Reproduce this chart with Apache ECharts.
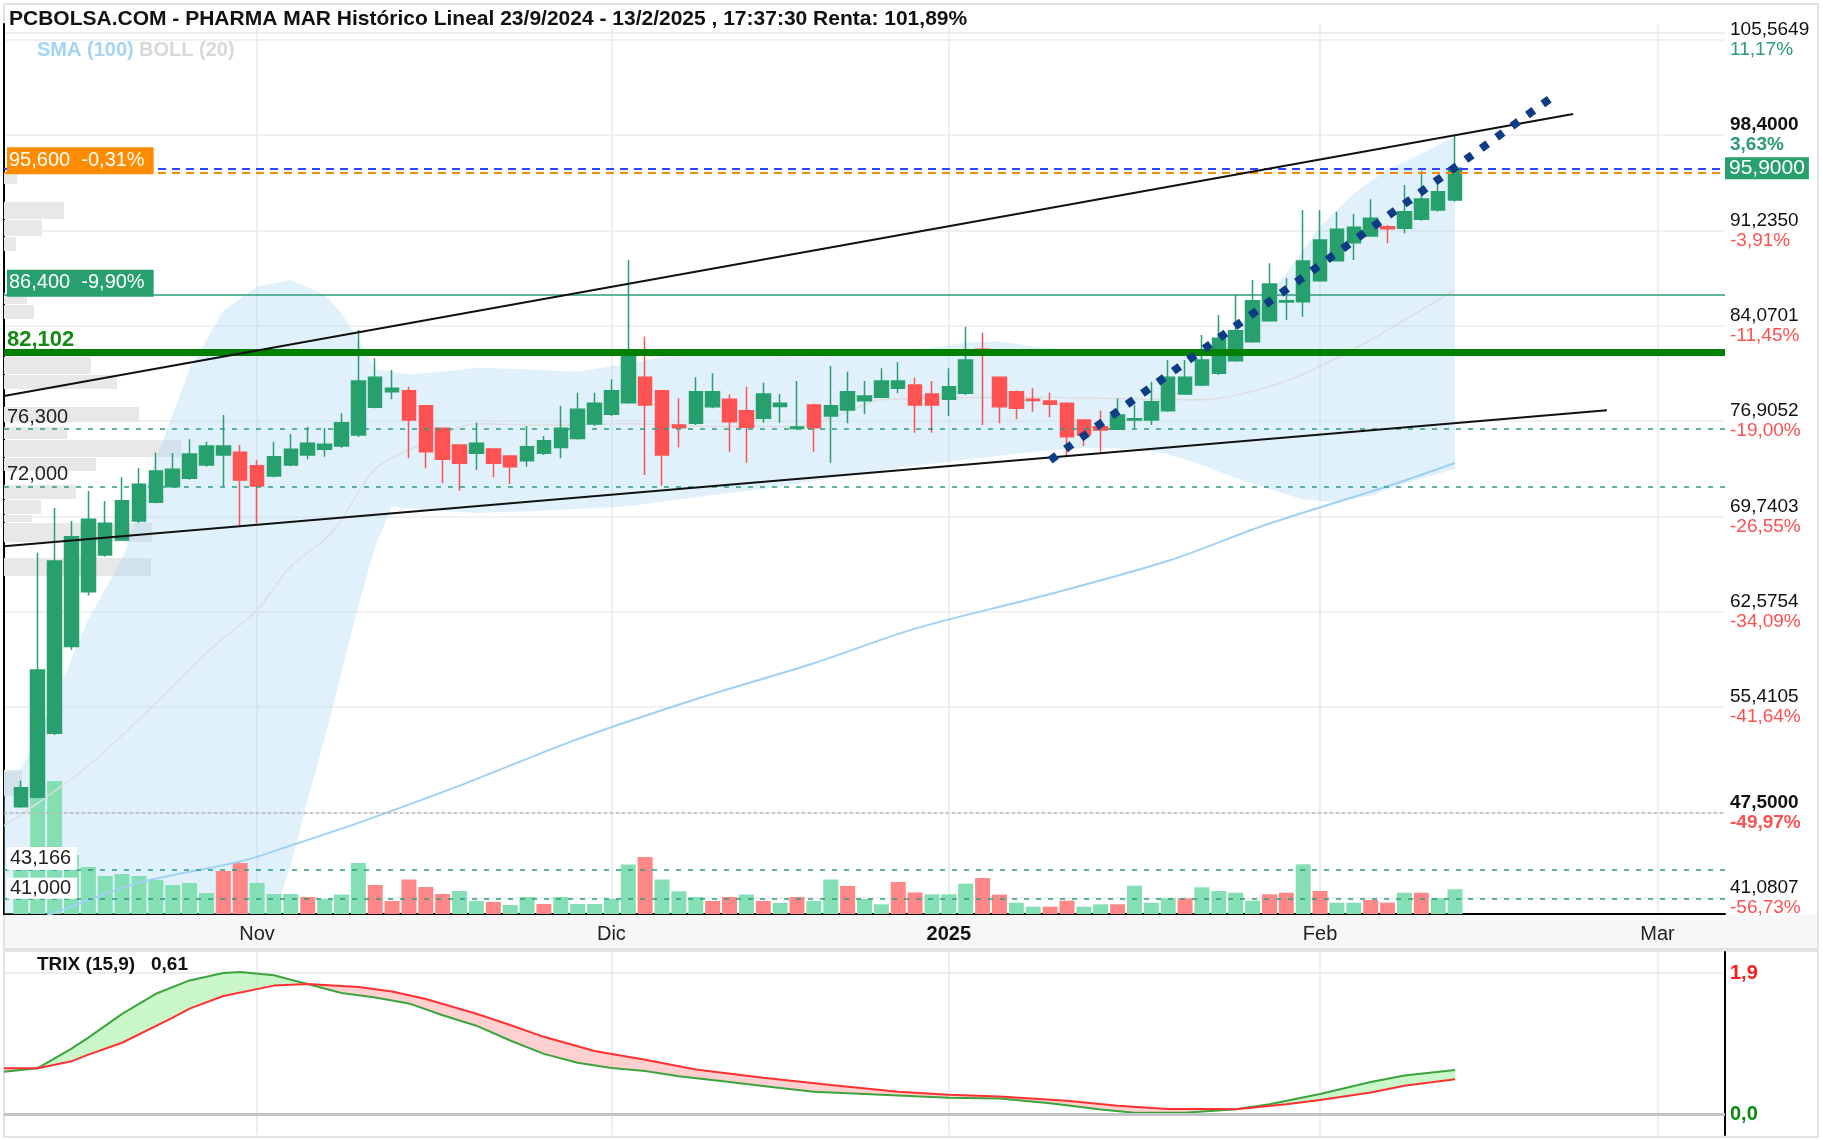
<!DOCTYPE html>
<html>
<head>
<meta charset="utf-8">
<title>PHARMA MAR - Histórico Lineal</title>
<script src="https://cdn.jsdelivr.net/npm/echarts@6.0.0/dist/echarts.min.js"></script>
<style>
  html, body { margin: 0; padding: 0; background: #fff; }
  #chart { width: 1823px; height: 1140px; }
</style>
</head>
<body>
<div id="chart"></div>
<script>
// sesiones visibles (d/m)
var days = ['14/10','15/10','16/10','17/10','18/10','21/10','22/10','23/10','24/10','25/10','28/10','29/10','30/10','31/10',
  '1/11','4/11','5/11','6/11','7/11','8/11','11/11','12/11','13/11','14/11','15/11','18/11','19/11','20/11','21/11','22/11','25/11','26/11','27/11','28/11','29/11',
  '2/12','3/12','4/12','5/12','6/12','9/12','10/12','11/12','12/12','13/12','16/12','17/12','18/12','19/12','20/12','23/12','24/12','27/12','30/12','31/12',
  '2/1','3/1','6/1','7/1','8/1','9/1','10/1','13/1','14/1','15/1','16/1','17/1','20/1','21/1','22/1','23/1','24/1','27/1','28/1','29/1','30/1','31/1',
  '3/2','4/2','5/2','6/2','7/2','10/2','11/2','12/2','13/2'];
var padLeft = ['11/10'];
var futureDays = ['14/2','17/2','18/2','19/2','20/2','21/2','24/2','25/2','26/2','27/2','28/2','3/3','4/3','5/3','6/3','7/3'];
var monthLabels = { '1/11': 'Nov', '2/12': 'Dic', '2/1': '2025', '3/2': 'Feb', '3/3': 'Mar' };

var open = [47.92, 48.63, 53.44, 59.95, 64.08, 66.84, 67.96, 69.39, 70.80, 71.97, 72.60, 73.60, 74.35, 74.55,
  73.55, 72.77, 73.60, 74.35, 74.78, 75.03, 75.85, 77.94, 79.11, 79.18, 78.06, 76.36, 75.10, 74.48, 74.80, 74.28, 73.92, 74.48, 74.91, 75.60, 76.68,
  77.41, 78.28, 80.19, 79.18, 76.60, 76.73, 77.98, 78.54, 77.68, 77.11, 78.00, 76.35, 78.11, 77.28, 77.73, 78.43, 78.69, 79.36, 79.61, 78.94,
  78.54, 78.99, 82.30, 80.19, 79.11, 78.55, 78.41, 78.24, 76.98, 76.48, 76.28, 76.98, 76.98, 77.68, 78.94, 79.61, 80.49, 81.44, 82.87, 84.44, 85.85, 85.87,
  87.45, 88.95, 90.31, 90.81, 91.50, 91.39, 92.06, 92.76, 93.51];
var close = [49.35, 58.19, 66.38, 68.21, 69.52, 69.22, 70.92, 72.15, 73.15, 73.28, 74.43, 75.03, 75.03, 72.47,
  72.02, 74.22, 74.78, 75.23, 75.15, 76.78, 79.91, 80.19, 79.36, 76.98, 74.60, 74.03, 73.73, 75.23, 73.73, 73.47, 74.97, 75.43, 76.36, 77.78, 78.24,
  79.18, 81.99, 78.11, 74.35, 76.40, 79.11, 79.11, 76.85, 76.43, 78.94, 78.24, 76.45, 76.40, 78.06, 79.11, 78.78, 79.91, 79.91, 78.11, 78.11,
  79.48, 81.49, 81.90, 77.98, 77.86, 78.45, 78.16, 75.73, 75.85, 76.23, 77.36, 77.08, 78.36, 80.19, 80.19, 81.49, 83.12, 83.69, 85.95, 87.20, 85.95, 88.93,
  90.51, 91.31, 91.46, 92.14, 91.35, 92.64, 93.59, 94.14, 95.90];
var low = [47.85, 48.55, 53.30, 59.70, 63.80, 66.70, 67.90, 69.24, 70.72, 71.90, 72.50, 73.47, 71.97, 69.09,
  69.22, 72.67, 73.50, 74.03, 74.22, 74.90, 75.70, 77.86, 78.54, 74.10, 73.35, 72.22, 71.67, 73.22, 72.68, 72.17, 73.47, 74.35, 74.10, 75.50, 76.53,
  77.28, 78.20, 72.85, 72.02, 74.93, 76.60, 77.86, 74.60, 73.77, 76.78, 76.78, 76.30, 74.60, 73.77, 76.73, 77.43, 78.61, 78.99, 76.03, 76.03,
  77.28, 78.86, 76.60, 76.73, 77.03, 77.60, 77.18, 74.22, 75.03, 74.60, 76.23, 76.36, 76.60, 77.60, 78.86, 79.53, 80.36, 81.36, 82.79, 84.37, 84.50, 84.74,
  87.38, 88.88, 89.00, 90.76, 90.26, 91.01, 91.96, 92.64, 93.39];
var high = [49.87, 67.00, 70.37, 69.40, 71.65, 70.90, 72.67, 73.35, 74.52, 74.50, 75.53, 75.35, 77.36, 75.10,
  73.97, 75.35, 75.93, 76.48, 76.36, 77.48, 83.74, 81.62, 80.74, 79.48, 78.10, 76.40, 75.15, 76.78, 74.90, 74.30, 76.53, 75.78, 78.03, 79.03, 79.03,
  80.04, 89.00, 83.24, 79.20, 78.61, 80.19, 80.49, 78.90, 79.48, 79.78, 78.94, 79.91, 78.20, 81.04, 80.61, 79.91, 80.87, 81.32, 80.16, 79.91,
  80.87, 83.99, 83.54, 80.20, 79.20, 79.36, 79.03, 78.30, 77.00, 77.68, 78.61, 78.11, 79.86, 81.49, 81.49, 83.37, 84.87, 86.45, 87.50, 88.76, 87.63, 92.76,
  92.76, 92.64, 92.46, 93.57, 91.64, 94.64, 95.72, 95.02, 98.40];

// volumen (miles de títulos) y color de la barra (1 sube, 0 baja)
var volume = [590, 1240, 1330, 590, 470, 380, 400, 380, 340, 290, 310, 210, 430, 510,
  310, 200, 200, 170, 150, 195, 510, 290, 130, 345, 270, 200, 230, 130, 120, 90, 170, 100, 170, 100, 100,
  150, 495, 570, 345, 227, 170, 130, 170, 195, 130, 110, 170, 130, 345, 280, 150, 97, 320, 215, 197,
  197, 304, 360, 194, 113, 73, 73, 133, 73, 97, 97, 283, 113, 157, 157, 267, 230, 213, 133, 197, 213, 497,
  230, 113, 113, 140, 113, 213, 213, 157, 247];
var volUp = [1,1,1,1,1,1,1,1,1,1,1,1,0,0,
  1,1,1,0,1,1,1,0,0,0,0,0,1,1,0,1,1,0,1,1,1,
  1,1,0,1,1,1,0,0,1,0,1,0,1,1,0,1,1,0,0,1,
  1,1,0,0,1,1,0,0,1,1,0,1,1,1,0,1,1,1,1,0,0,1,
  0,1,1,0,0,1,0,1,1];

// volumen por precio (perfil a la izquierda)
var profileLow  = [94.64, 92.01, 90.73, 89.61, 85.62, 84.50, 80.36, 79.24, 76.76, 75.48, 74.13, 73.07, 70.97, 69.84, 69.24, 67.74, 65.18, 48.65];
var profileHigh = [95.54, 93.36, 92.01, 90.73, 86.53, 85.62, 81.72, 80.36, 77.96, 76.46, 75.48, 74.13, 72.10, 70.97, 69.84, 69.24, 66.61, 50.68];
var profileVol  = [13, 60, 38, 12, 23, 30, 87, 113, 135, 63, 177, 92, 72, 37, 28, 148, 147, 18];

// bandas de Bollinger (20) y medias
var bollUp = [['11/10', 50.5], ['14/10', 50.7], ['16/10', 56], ['18/10', 62], ['22/10', 66.5], ['24/10', 74], ['28/10', 80.8], ['30/10', 85.2],
  ['1/11', 87.0], ['5/11', 87.5], ['7/11', 86.4], ['8/11', 85.0], ['11/11', 83.0], ['12/11', 80.8], ['14/11', 80.4], ['18/11', 80.6],
  ['20/11', 80.9], ['25/11', 80.8], ['28/11', 80.6], ['3/12', 81.2], ['5/12', 81.7], ['10/12', 81.9], ['13/12', 81.8], ['18/12', 81.7],
  ['23/12', 81.9], ['30/12', 82.2], ['3/1', 82.8], ['7/1', 82.9], ['9/1', 82.5], ['14/1', 82.1], ['17/1', 81.8], ['22/1', 81.9],
  ['24/1', 82.6], ['28/1', 84.8], ['30/1', 88.0], ['3/2', 91.5], ['5/2', 94.0], ['7/2', 95.8], ['11/2', 97.0], ['13/2', 98.3]];
var bollLow = [['11/10', 20], ['30/10', 28], ['1/11', 35], ['4/11', 39.8], ['5/11', 43.5], ['6/11', 48.5], ['7/11', 53], ['8/11', 58],
  ['11/11', 63], ['12/11', 67.5], ['13/11', 70.5], ['15/11', 70.2], ['20/11', 70.0], ['25/11', 70.1], ['28/11', 70.3], ['3/12', 70.5],
  ['9/12', 71.2], ['13/12', 71.8], ['19/12', 72.6], ['27/12', 73.4], ['3/1', 74.0], ['9/1', 74.6], ['14/1', 74.9], ['17/1', 74.8],
  ['21/1', 74.4], ['23/1', 73.6], ['27/1', 72.6], ['29/1', 71.8], ['31/1', 71.0], ['4/2', 70.8], ['6/2', 71.3], ['10/2', 72.2], ['13/2', 73.3]];
var bollMid = [['11/10', 46.5], ['14/10', 47.3], ['18/10', 51.0], ['24/10', 55.7], ['29/10', 59.5], ['1/11', 62.7], ['5/11', 66.0],
  ['7/11', 68.0], ['8/11', 69.5], ['12/11', 73.3], ['15/11', 75.3], ['20/11', 76.7], ['26/11', 76.6], ['3/12', 76.7], ['10/12', 76.5],
  ['17/12', 76.5], ['20/12', 77.6], ['24/12', 78.5], ['9/1', 78.7], ['16/1', 78.6], ['23/1', 78.5], ['29/1', 79.5], ['3/2', 81.0],
  ['6/2', 83.0], ['10/2', 84.5], ['13/2', 86.75]];
var sma100 = [['15/10', 39.5], ['16/10', 39.95], ['23/10', 42.2], ['31/10', 43.8], ['5/11', 45.0], ['11/11', 46.7], ['19/11', 49.5],
  ['28/11', 53.0], ['9/12', 56.0], ['18/12', 58.7], ['30/12', 61.3], ['10/1', 63.9], ['21/1', 66.4], ['29/1', 69.2], ['7/2', 72.0], ['13/2', 73.75]];

// líneas dibujadas
var upperTrend = [['11/10', 78.78], ['24/2', 99.98]];
var lowerTrend = [['11/10', 67.49], ['26/2', 77.72]];
var fastTrend = [['10/1', 73.96], ['21/2', 101.47]];
var levelPrices = [95.6, 86.4, 82.102, 76.3, 72.0, 43.166, 41.0];
var levelText = ['95,600  -0,31%', '86,400  -9,90%', '82,102', '76,300', '72,000', '43,166', '41,000'];
var lastPrice = 95.9;
var startPrice = 47.5;

// eje de precios
var priceTicks = [41.0807, 47.5, 55.4105, 62.5754, 69.7403, 76.9052, 84.0701, 91.235, 98.4, 105.5649];
var priceText = ['41,0807', '47,5000', '55,4105', '62,5754', '69,7403', '76,9052', '84,0701', '91,2350', '98,4000', '105,5649'];
var pctText = ['-56,73%', '-49,97%', '-41,64%', '-34,09%', '-26,55%', '-19,00%', '-11,45%', '-3,91%', '3,63%', '11,17%'];
var boldTicks = [47.5, 98.4];

// TRIX (15,9)
var trix = [['11/10', 0.57], ['15/10', 0.617], ['17/10', 0.88], ['18/10', 1.03], ['22/10', 1.35], ['24/10', 1.62], ['28/10', 1.80],
  ['30/10', 1.90], ['31/10', 1.915], ['4/11', 1.87], ['5/11', 1.81], ['6/11', 1.752], ['8/11', 1.63], ['12/11', 1.57], ['14/11', 1.49],
  ['18/11', 1.33], ['20/11', 1.19], ['22/11', 0.99], ['26/11', 0.81], ['28/11', 0.69], ['2/12', 0.62], ['4/12', 0.58], ['6/12', 0.51],
  ['11/12', 0.43], ['16/12', 0.35], ['18/12', 0.30], ['24/12', 0.26], ['2/1', 0.22], ['7/1', 0.21], ['10/1', 0.145], ['15/1', 0.06],
  ['17/1', 0.017], ['22/1', 0.017], ['27/1', 0.065], ['29/1', 0.13], ['3/2', 0.27], ['6/2', 0.43], ['10/2', 0.52], ['13/2', 0.593]];
var trixSignal = [['11/10', 0.615], ['15/10', 0.617], ['17/10', 0.71], ['18/10', 0.80], ['22/10', 0.96], ['25/10', 1.30], ['28/10', 1.42],
  ['30/10', 1.59], ['4/11', 1.73], ['6/11', 1.752], ['11/11', 1.71], ['13/11', 1.65], ['15/11', 1.55], ['20/11', 1.35], ['22/11', 1.20],
  ['26/11', 1.04], ['29/11', 0.85], ['4/12', 0.73], ['9/12', 0.60], ['13/12', 0.49], ['19/12', 0.39], ['27/12', 0.30], ['2/1', 0.26],
  ['7/1', 0.235], ['13/1', 0.18], ['16/1', 0.11], ['21/1', 0.067], ['24/1', 0.067], ['27/1', 0.065], ['30/1', 0.13], ['3/2', 0.19],
  ['6/2', 0.29], ['10/2', 0.38], ['13/2', 0.467]];
var trixCross = ['15/10', '6/11', '27/1'];
var trixTicks = [0, 1.9];
var trixTickText = ['0,0', '1,9'];

(function () {
  var FONT = '"Liberation Sans", Arial, sans-serif';
  var GREEN = '#27a06e', RED = '#ff5252';
  var PMIN = 39.856, PMAX = 106.742;

  var axisDates = padLeft.concat(days, futureDays);
  function pos(d) { return axisDates.indexOf(d); }
  function pts(list) { return list.map(function (p) { return [pos(p[0]), p[1]]; }); }
  function clampP(v) { return Math.max(PMIN, Math.min(PMAX, v)); }
  function isMonth(i, v) { return monthLabels[v] !== undefined; }

  var myChart = echarts.init(document.getElementById('chart'));

  var candles = days.map(function (d, i) { return [pos(d), open[i], close[i], low[i], high[i]]; });
  var volData = days.map(function (d, i) {
    return { value: [pos(d), volume[i]], itemStyle: { color: volUp[i] ? '#84e0b4' : '#ff8787' } };
  });
  var profData = profileVol.map(function (w, i) { return [profileLow[i], profileHigh[i], w]; });

  // banda de Bollinger como un polígono (superior + inferior invertida)
  function bandItem(params, api) {
    var poly = [];
    bollUp.forEach(function (p) { poly.push(api.coord([pos(p[0]), clampP(p[1])])); });
    bollLow.slice().reverse().forEach(function (p) { poly.push(api.coord([pos(p[0]), clampP(p[1])])); });
    return { type: 'polygon', shape: { points: poly }, style: { fill: 'rgba(169,215,246,0.36)' } };
  }

  function profileItem(params, api) {
    var a = api.coord([0, api.value(1)]);
    var b = api.coord([api.value(2), api.value(0)]);
    return { type: 'rect', shape: { x: a[0], y: a[1], width: b[0] - a[0], height: b[1] - a[1] - 1 }, style: { fill: '#e8e8e8' } };
  }

  // relleno entre TRIX y señal, verde o rojo por tramo
  function trixFillItem(params, api) {
    var bounds = [trix[0][0]].concat(trixCross, [trix[trix.length - 1][0]]);
    var kids = [];
    for (var z = 0; z < bounds.length - 1; z++) {
      var a = pos(bounds[z]), b = pos(bounds[z + 1]);
      var t = trix.filter(function (p) { return pos(p[0]) >= a && pos(p[0]) <= b; });
      var s = trixSignal.filter(function (p) { return pos(p[0]) >= a && pos(p[0]) <= b; });
      var mt = 0, ms = 0;
      t.forEach(function (p) { mt += p[1] / t.length; });
      s.forEach(function (p) { ms += p[1] / s.length; });
      var poly = t.map(function (p) { return api.coord([pos(p[0]), p[1]]); })
        .concat(s.slice().reverse().map(function (p) { return api.coord([pos(p[0]), p[1]]); }));
      kids.push({ type: 'polygon', shape: { points: poly },
        style: { fill: mt >= ms ? 'rgba(150,240,150,0.5)' : 'rgba(255,150,150,0.45)' } });
    }
    return { type: 'group', children: kids };
  }

  function levelLine(k, color, type, width, label) {
    return { yAxis: levelPrices[k], lineStyle: { color: color, type: type, width: width }, label: label };
  }

  var option = {
    animation: false,
    backgroundColor: '#fff',
    textStyle: { fontFamily: FONT },
    graphic: [
      { type: 'rect', z: -10, shape: { x: 4, y: 915, width: 1814, height: 33 }, style: { fill: '#f7f7f7' } },
      { type: 'rect', z: -10, shape: { x: 4, y: 948, width: 1814, height: 4 }, style: { fill: '#e2e2e2' } },
      { type: 'rect', z: -10, shape: { x: 4, y: 4, width: 1814, height: 1133 }, style: { fill: 'none', stroke: '#e2e2e2', lineWidth: 2 } },
      { type: 'line', z: -10, shape: { x1: 5, y1: 33, x2: 1725, y2: 33 }, style: { stroke: '#e8e8e8', lineWidth: 1.5 } },
      { type: 'text', z: 100, left: 9, top: 9, style: { text: 'PCBOLSA.COM - PHARMA MAR Histórico Lineal 23/9/2024 - 13/2/2025 , 17:37:30 Renta: 101,89%', font: 'bold 21px ' + FONT, fill: '#111' } },
      { type: 'text', z: 100, left: 37, top: 40, style: { text: 'SMA (100)', font: 'bold 20px ' + FONT, fill: '#a3d4f5' } },
      { type: 'text', z: 100, left: 139, top: 40, style: { text: 'BOLL (20)', font: 'bold 20px ' + FONT, fill: '#d8d8d8' } },
      { type: 'text', z: 100, left: 37, top: 955, style: { text: 'TRIX (15,9)   0,61', font: 'bold 19px ' + FONT, fill: '#111' } }
    ],
    grid: [
      { left: 4, right: 98, top: 24, bottom: 226 },
      { left: 4, right: 98, top: 952, bottom: 5 }
    ],
    xAxis: [
      {
        type: 'category', gridIndex: 0, data: axisDates, boundaryGap: false,
        axisLine: { lineStyle: { color: '#000', width: 2 } },
        axisTick: { show: false },
        axisLabel: {
          interval: isMonth, margin: 10, fontSize: 20, color: '#222',
          formatter: function (v) { return monthLabels[v] === '2025' ? '{b|2025}' : monthLabels[v]; },
          rich: { b: { fontSize: 20, fontWeight: 'bold', color: '#111' } }
        },
        splitLine: { show: true, interval: isMonth, lineStyle: { color: '#e8e8e8', width: 1.5 } }
      },
      {
        type: 'category', gridIndex: 1, data: axisDates, boundaryGap: false,
        axisLine: { show: false }, axisTick: { show: false }, axisLabel: { show: false },
        splitLine: { show: true, interval: isMonth, lineStyle: { color: '#e8e8e8', width: 1.5 } }
      },
      { type: 'value', gridIndex: 0, min: 0, max: 1721, show: false }
    ],
    yAxis: [
      {
        type: 'value', gridIndex: 0, position: 'right', min: PMIN, max: PMAX,
        axisLine: { show: true, lineStyle: { color: '#000', width: 2 } },
        axisTick: { show: false, customValues: priceTicks },
        splitLine: { show: true, lineStyle: { color: '#ececec', width: 1.5 } },
        axisLabel: {
          customValues: priceTicks, margin: 5,
          formatter: function (v) {
            var k = 0;
            priceTicks.forEach(function (t, j) { if (Math.abs(t - v) < Math.abs(priceTicks[k] - v)) k = j; });
            var bold = boldTicks.indexOf(priceTicks[k]) >= 0;
            var up = pctText[k].charAt(0) !== '-';
            return '{' + (bold ? 'vb' : 'v') + '|' + priceText[k] + '}\n{' + (up ? 'g' : 'r') + (bold ? 'b' : '') + '|' + pctText[k] + '}';
          },
          rich: {
            v: { fontSize: 19, color: '#111', lineHeight: 20 },
            vb: { fontSize: 19, color: '#111', fontWeight: 'bold', lineHeight: 20 },
            g: { fontSize: 19, color: '#2a9d70', lineHeight: 20 },
            gb: { fontSize: 19, color: '#2a9d70', fontWeight: 'bold', lineHeight: 20 },
            r: { fontSize: 19, color: '#ff5050', lineHeight: 20 },
            rb: { fontSize: 19, color: '#ff5050', fontWeight: 'bold', lineHeight: 20 }
          }
        }
      },
      { type: 'value', gridIndex: 0, min: 0, max: 8900, show: false },
      {
        type: 'value', gridIndex: 1, position: 'right', min: -0.283, max: 2.183,
        axisLine: { show: true, lineStyle: { color: '#000', width: 2 } },
        axisTick: { show: false, customValues: trixTicks },
        splitLine: { show: true, lineStyle: { color: '#e6e6e6', width: 1.5 } },
        axisLabel: {
          customValues: trixTicks, margin: 5,
          formatter: function (v) {
            var k = Math.abs(v - trixTicks[0]) < Math.abs(v - trixTicks[1]) ? 0 : 1;
            return '{' + (k === 0 ? 'g' : 'r') + '|' + trixTickText[k] + '}';
          },
          rich: {
            g: { fontSize: 20, fontWeight: 'bold', color: '#0a8a0a' },
            r: { fontSize: 20, fontWeight: 'bold', color: '#ff1a1a' }
          }
        }
      }
    ],
    series: [
      {
        name: 'perfil', type: 'custom', xAxisIndex: 2, yAxisIndex: 0, z: 1,
        renderItem: profileItem, encode: { x: 2, y: [0, 1] }, data: profData, silent: true
      },
      {
        name: 'BOLL', type: 'custom', xAxisIndex: 0, yAxisIndex: 0, z: 1,
        renderItem: bandItem, data: [[0, 60]], silent: true
      },
      {
        name: 'BOLL media', type: 'line', xAxisIndex: 0, yAxisIndex: 0, z: 2, smooth: 0.3,
        showSymbol: false, data: pts(bollMid), lineStyle: { color: '#dedede', width: 1.5 }
      },
      {
        name: 'Volumen', type: 'bar', xAxisIndex: 0, yAxisIndex: 1, z: 2, barWidth: 15, data: volData
      },
      {
        name: 'SMA (100)', type: 'line', xAxisIndex: 0, yAxisIndex: 0, z: 3, smooth: 0.3,
        showSymbol: false, data: pts(sma100), lineStyle: { color: '#9fd1f5', width: 2 }
      },
      {
        name: 'PHARMA MAR', type: 'candlestick', xAxisIndex: 0, yAxisIndex: 0, z: 4, barWidth: 14,
        encode: { x: 0, y: [1, 2, 3, 4] }, data: candles,
        itemStyle: { color: GREEN, color0: RED, borderColor: GREEN, borderColor0: RED, borderWidth: 1.5 }
      },
      {
        name: 'niveles', type: 'line', xAxisIndex: 0, yAxisIndex: 0, z: 5, showSymbol: false,
        data: pts(upperTrend), lineStyle: { color: '#111', width: 2 },
        markLine: {
          silent: true, symbol: 'none', precision: 4,
          data: [
            { yAxis: startPrice, lineStyle: { color: '#b5b5b5', type: [3, 3], width: 1.5 }, label: { show: false } },
            levelLine(3, '#2a9d7c', [5, 7], 1.5, { position: 'insideStartTop', distance: [3, 2], formatter: levelText[3], fontSize: 20, color: '#222' }),
            levelLine(4, '#2a9d7c', [5, 7], 1.5, { position: 'insideStartTop', distance: [3, 2], formatter: levelText[4], fontSize: 20, color: '#222' }),
            levelLine(5, '#2a9d7c', [5, 7], 1.5, { position: 'insideStartTop', distance: [3, 0], formatter: levelText[5], fontSize: 20, color: '#222', backgroundColor: '#fff', padding: [2, 6, 1, 3] }),
            levelLine(6, '#2a9d7c', [5, 7], 1.5, { position: 'insideStartTop', distance: [3, 0], formatter: levelText[6], fontSize: 20, color: '#222', backgroundColor: '#fff', padding: [1, 6, 0, 3] }),
            levelLine(1, '#2e9c7a', 'solid', 1.5, { position: 'insideStartTop', distance: [3, -2], formatter: levelText[1], fontSize: 20, color: '#fff', backgroundColor: '#27a06e', padding: [3, 9, 4, 2] }),
            levelLine(0, '#ff8c00', [8, 6], 2, { position: 'insideStartTop', distance: [3, -2], formatter: levelText[0], fontSize: 20, color: '#fff', backgroundColor: '#ff8c00', padding: [3, 9, 4, 2] }),
            { yAxis: lastPrice, lineStyle: { color: '#3344ff', type: [8, 6], width: 2 },
              label: { position: 'end', distance: 0, formatter: '95,9000', fontSize: 21, color: '#fff', backgroundColor: '#27a06e', padding: [1, 4, 0, 4] } },
            levelLine(2, '#008000', 'solid', 7, { position: 'insideStartTop', distance: [3, 1], formatter: levelText[2], fontSize: 22, fontWeight: 'bold', color: '#138a13' })
          ]
        }
      },
      {
        name: 'soporte', type: 'line', xAxisIndex: 0, yAxisIndex: 0, z: 5, showSymbol: false,
        data: pts(lowerTrend), lineStyle: { color: '#111', width: 2 }
      },
      {
        name: 'tendencia', type: 'line', xAxisIndex: 0, yAxisIndex: 0, z: 6, showSymbol: false,
        data: pts(fastTrend), lineStyle: { color: '#0d3c84', width: 8, type: [8, 11], cap: 'butt' }
      },
      {
        name: 'TRIX relleno', type: 'custom', xAxisIndex: 1, yAxisIndex: 2, z: 1,
        renderItem: trixFillItem, data: [[0, 0]], silent: true
      },
      {
        name: 'TRIX', type: 'line', xAxisIndex: 1, yAxisIndex: 2, z: 3, showSymbol: false,
        data: pts(trix), lineStyle: { color: '#3ca43c', width: 2 },
        markLine: { silent: true, symbol: 'none', label: { show: false },
          data: [{ yAxis: 0, lineStyle: { color: '#c4c4c4', type: 'solid', width: 3 } }] }
      },
      {
        name: 'Señal', type: 'line', xAxisIndex: 1, yAxisIndex: 2, z: 3, showSymbol: false,
        data: pts(trixSignal), lineStyle: { color: '#ff3030', width: 2 }
      }
    ]
  };

  myChart.setOption(option);
  window.addEventListener('resize', function () {
    myChart.resize();
  });
})();
</script>
</body>
</html>
